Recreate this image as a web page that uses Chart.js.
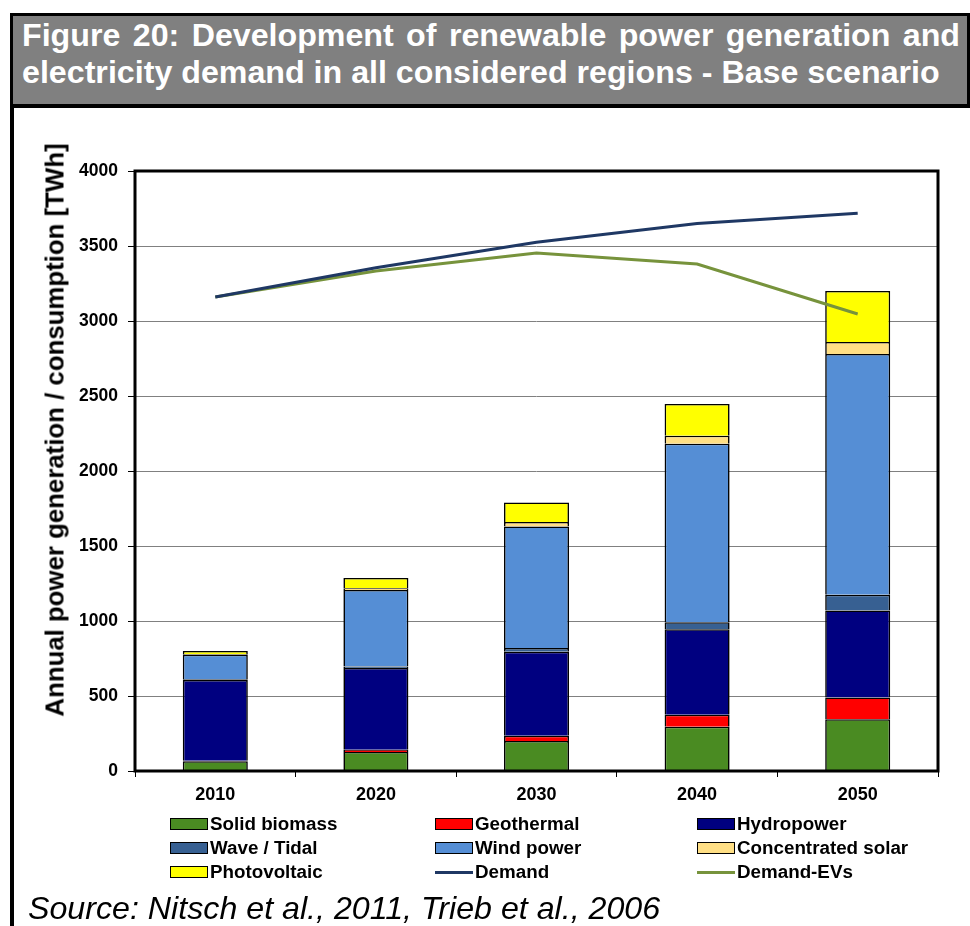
<!DOCTYPE html>
<html>
<head>
<meta charset="utf-8">
<script src="https://cdn.jsdelivr.net/npm/chart.js@4"></script>
<style>
  html, body { margin: 0; padding: 0; background: #fff; }
  body { width: 970px; height: 926px; position: relative; overflow: hidden;
         font-family: "Liberation Sans", Arial, sans-serif; }
  #chart { position: absolute; left: 0; top: 0; }
  .frame-left { position: absolute; left: 10px; top: 13px; width: 4px; height: 913px; background: #000; }
  .header { position: absolute; left: 10px; top: 13px; width: 960px; height: 95px; box-sizing: border-box;
            background: #808080; border: 3px solid #000; border-bottom-width: 4px;
            color: #fff; font-weight: bold; font-size: 32.2px; line-height: 37px;
            padding: 1px 7px 0 9px; text-align: justify; text-align-last: left; }
  .ytitle { position: absolute; left: 55px; top: 430px; transform: translate(-50%, -50%) rotate(-90deg);
            white-space: nowrap; font-weight: bold; font-size: 25.8px; color: #000; }
  .legend-item { position: absolute; height: 24px; display: flex; align-items: center;
                 font-weight: bold; font-size: 18.8px; color: #000; white-space: nowrap; }
  .legend-box { width: 38px; height: 12px; box-sizing: border-box; border: 1.5px solid #000; margin-right: 2px; }
  .legend-line { width: 38px; height: 3px; margin-right: 2px; }
  .source { position: absolute; left: 28px; top: 890px; font-style: italic; font-size: 32.2px; color: #000;
            white-space: nowrap; line-height: 36px; }
</style>
</head>
<body>
<canvas id="chart" width="970" height="926"></canvas>
<div class="frame-left"></div>
<div class="header">Figure 20: Development of renewable power generation and electricity demand in all considered regions - Base scenario</div>
<div class="ytitle">Annual power generation / consumption [TWh]</div>
<div id="legend"></div>
<div class="source">Source: Nitsch et al., 2011, Trieb et al., 2006</div>
<script>
// Years on the category axis
const years = ['2010', '2020', '2030', '2040', '2050'];

// Renewable generation by source [TWh]
const solidBiomass      = [65, 127, 200, 295, 345];
const geothermal        = [3, 15, 35, 80, 145];
const hydropower        = [540, 545, 560, 570, 580];
const waveTidal         = [5, 10, 25, 47, 105];
const windPower         = [162, 510, 810, 1190, 1605];
const concentratedSolar = [5, 12, 30, 53, 80];
const photovoltaic      = [20, 68, 130, 212, 340];

// Electricity demand [TWh]
const demand    = [3160, 3355, 3525, 3650, 3718];
const demandEVs = [3160, 3333, 3453, 3380, 3047];

// Value axis ticks
const yMin = 0, yMax = 4000, yStep = 500;

const barSeries = [
  { label: 'Solid biomass',      data: solidBiomass,      color: '#4A8B22' },
  { label: 'Geothermal',         data: geothermal,        color: '#FF0000' },
  { label: 'Hydropower',         data: hydropower,        color: '#000080' },
  { label: 'Wave / Tidal',       data: waveTidal,         color: '#376092' },
  { label: 'Wind power',         data: windPower,         color: '#558ED5' },
  { label: 'Concentrated solar', data: concentratedSolar, color: '#FFDF85' },
  { label: 'Photovoltaic',       data: photovoltaic,      color: '#FFFF00' }
];
const lineSeries = [
  { label: 'Demand',     data: demand,    color: '#1F3864' },
  { label: 'Demand-EVs', data: demandEVs, color: '#77933C' }
];

const FONT = '"Liberation Sans", Arial, sans-serif';

const barDatasets = barSeries.map(s => ({
  type: 'bar', label: s.label, data: s.data, stack: 'gen', order: 1,
  backgroundColor: s.color, borderColor: '#000', borderWidth: 1.6,
  barPercentage: 0.405, categoryPercentage: 1.0
}));
const lineDatasets = lineSeries.map((s, i) => ({
  type: 'line', label: s.label, data: s.data, stack: 'line' + i, order: 0,
  borderColor: s.color, backgroundColor: s.color, borderWidth: 3,
  pointRadius: 0, tension: 0, fill: false
}));

// Black frame around the plotting area
const plotFrame = {
  id: 'plotFrame',
  afterDatasetsDraw(chart) {
    const { ctx, chartArea: a } = chart;
    ctx.save();
    ctx.strokeStyle = '#000';
    ctx.lineWidth = 3;
    ctx.strokeRect(a.left, a.top, a.right - a.left, a.bottom - a.top);
    ctx.restore();
  }
};

new Chart(document.getElementById('chart'), {
  type: 'bar',
  data: { labels: years, datasets: barDatasets.concat(lineDatasets) },
  options: {
    responsive: false,
    animation: false,
    devicePixelRatio: 1,
    layout: { padding: { left: 0, top: 171, right: 32, bottom: 0 } },
    plugins: { legend: { display: false }, tooltip: { enabled: false } },
    scales: {
      x: {
        stacked: true,
        border: { display: false },
        grid: { offset: true, drawOnChartArea: false, drawTicks: true, tickLength: 6,
                tickColor: '#000', tickWidth: 1 },
        ticks: { color: '#000', padding: 7, font: { family: FONT, size: 18, weight: 'bold' } },
        afterFit(scale) { scale.height = 155; }
      },
      y: {
        stacked: true,
        min: yMin, max: yMax,
        border: { display: false },
        grid: { color: '#808080', lineWidth: 1, tickColor: '#000', tickLength: 7 },
        ticks: { stepSize: yStep, color: '#000', padding: 10,
                 format: { useGrouping: false },
                 font: { family: FONT, size: 17.5, weight: 'bold' } },
        afterFit(scale) { scale.width = 135; }
      }
    }
  },
  plugins: [plotFrame]
});

// Legend: three columns, row by row
const legendItems = [
  ...barSeries.map(s => ({ label: s.label, color: s.color, kind: 'box' })),
  ...lineSeries.map(s => ({ label: s.label, color: s.color, kind: 'line' }))
];
const colLeft = [170, 435, 697];
const rowTop = 812;
const rowStep = 24;
const legend = document.getElementById('legend');
legendItems.forEach((item, i) => {
  const el = document.createElement('div');
  el.className = 'legend-item';
  el.style.left = colLeft[i % 3] + 'px';
  el.style.top = (rowTop + Math.floor(i / 3) * rowStep) + 'px';
  const sw = document.createElement('span');
  sw.className = item.kind === 'box' ? 'legend-box' : 'legend-line';
  sw.style.background = item.color;
  el.appendChild(sw);
  el.appendChild(document.createTextNode(item.label));
  legend.appendChild(el);
});
</script>
</body>
</html>
